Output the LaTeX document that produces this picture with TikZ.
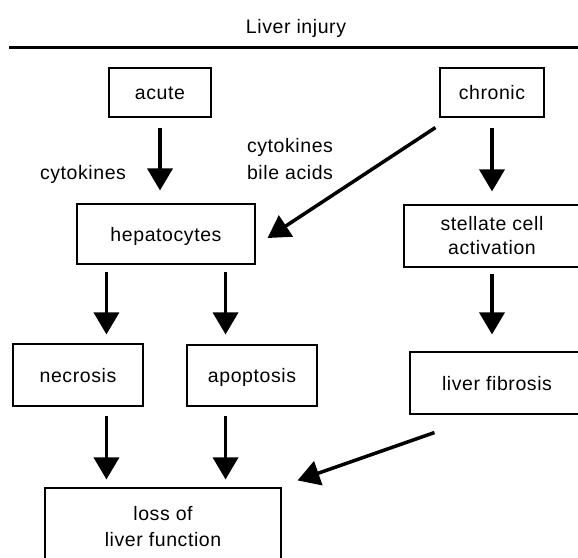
\documentclass[tikz,border=0pt]{standalone}
\usepackage{fontspec}
\setmainfont{Liberation Sans}[LetterSpace=3.0]
\usetikzlibrary{arrows.meta,calc}
\begin{document}
\begin{tikzpicture}[x=1pt,y=-1pt,
  box/.style={draw, line width=1.1pt, inner sep=0pt, align=center, font=\fontsize{19.5}{25}\selectfont},
  one/.style={text height=16pt, text depth=2pt},
  lbl/.style={inner sep=0pt, align=left, font=\fontsize{19.5}{27}\selectfont},
  arr/.style={line width=3.5pt, -{Triangle[width=25pt,length=22pt]}}]
\clip (0,0) rectangle (578,557);
\node[lbl, one] (title) at (296,26) {Liver injury};
\coordinate (l1) at (9,47);
\coordinate (l2) at (578,47);
\draw[line width=3pt] (l1) -- (l2);

\node[box, one, minimum width=102pt, minimum height=49pt] (acute) at (160,92.5) {acute};
\node[box, one, minimum width=104pt, minimum height=49pt] (chronic) at (492,92.5) {chronic};
\node[box, one, minimum width=178pt, minimum height=60pt] (hep) at (166,234) {hepatocytes};
\node[box, minimum width=176pt, minimum height=62pt, font=\fontsize{19.5}{24}\selectfont] (stellate) at (492,236) {stellate cell\\activation};
\node[box, one, minimum width=130pt, minimum height=62pt] (nec) at (78,375) {necrosis};
\node[box, one, minimum width=130pt, minimum height=61pt] (apo) at (252,375.5) {apoptosis};
\node[box, one, minimum width=174pt, minimum height=62pt] (fib) at (497,383) {liver fibrosis};
\node[box, minimum width=236pt, minimum height=78pt, font=\fontsize{19.5}{26}\selectfont] (loss) at (163,527) {loss of\\liver function};

\node[lbl, one] (cyt1) at (83,172) {cytokines};
\node[lbl] (cyt2) at (290,159) {cytokines\\bile acids};

\draw[arr, shorten <=10pt, shorten >=13pt] (acute.south) -- (acute.south |- hep.north);
\draw[arr, shorten <=10pt, shorten >=13pt] (chronic.south) -- (chronic.south |- stellate.north);
\draw[arr] ($(chronic.south west)+(-4,10)$) -- ($(hep.east)+(12,4)$);
\coordinate (c1) at ($(hep.south west)+(30,0)$);
\coordinate (c2) at ($(hep.south east)+(-30,0)$);
\draw[arr, shorten <=7pt, shorten >=9pt] (c1) -- (c1 |- nec.north);
\draw[arr, shorten <=7pt, shorten >=10pt] (c2) -- (c2 |- apo.north);
\draw[arr, shorten <=9pt, shorten >=8pt] (c1 |- nec.south) -- (c1 |- loss.north);
\draw[arr, shorten <=9pt, shorten >=8pt] (c2 |- apo.south) -- (c2 |- loss.north);
\draw[arr, shorten <=6pt, shorten >=17pt] (stellate.south) -- (stellate.south |- fib.north);
\draw[arr] ($(fib.south west)+(25,18)$) -- ($(loss.north east)+(16,-7)$);
\end{tikzpicture}
\end{document}
